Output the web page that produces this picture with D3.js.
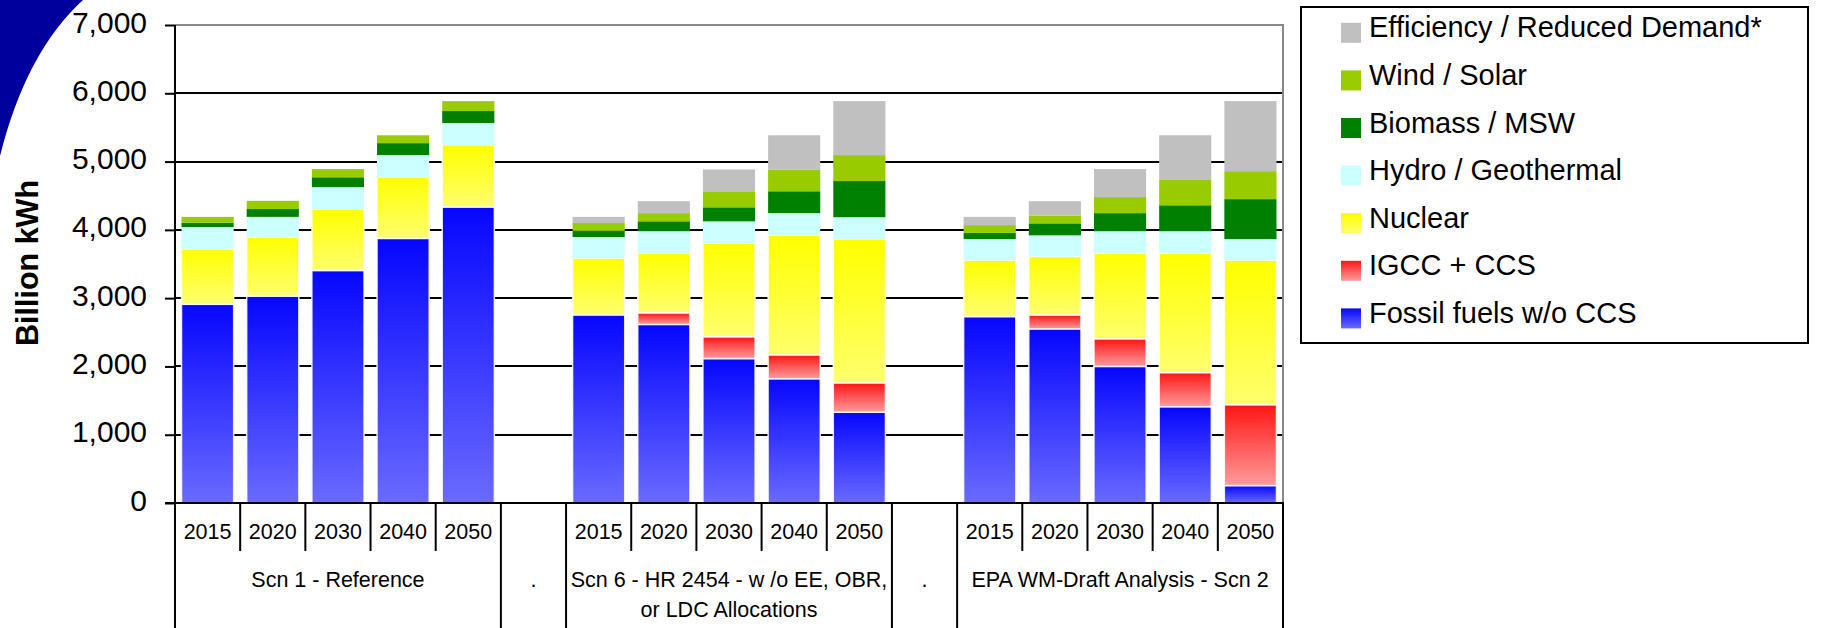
<!DOCTYPE html>
<html>
<head>
<meta charset="utf-8">
<script src="https://cdn.jsdelivr.net/npm/d3@7"></script>
<style>
  html, body { margin: 0; padding: 0; background: #fff; }
  svg { display: block; font-family: "Liberation Sans", Arial, sans-serif; }
</style>
</head>
<body>
<svg id="chart" width="1834" height="628"></svg>
<script>
// ---------- data ----------
const yearLabels = ["2015","2020","2030","2040","2050","","2015","2020","2030","2040","2050","","2015","2020","2030","2040","2050"];
const groupLabels = ["Scn 1 - Reference", ".", "Scn 6 - HR 2454 - w /o EE, OBR,|or LDC Allocations", ".", "EPA WM-Draft Analysis - Scn 2"];
const groupSizes = [5, 1, 5, 1, 5];
const yTicks = [0, 1000, 2000, 3000, 4000, 5000, 6000, 7000];

const seriesNames = ["Fossil fuels w/o CCS", "IGCC + CCS", "Nuclear", "Hydro / Geothermal", "Biomass / MSW", "Wind / Solar", "Efficiency / Reduced Demand*"];
const fossil     = [2910, 3030, 3405, 3875, 4335, 0, 2755, 2615, 2115, 1820, 1330, 0, 2730, 2550, 2000, 1410, 255];
const igcc       = [0, 0, 0, 0, 0, 0, 0, 170, 320, 350, 430, 0, 0, 205, 405, 500, 1185];
const nuclear    = [810, 865, 900, 900, 910, 0, 830, 875, 1370, 1755, 2105, 0, 825, 855, 1255, 1750, 2115];
const hydro      = [320, 295, 320, 320, 320, 0, 310, 320, 320, 320, 320, 0, 310, 310, 320, 320, 310];
const biomass    = [65, 115, 145, 175, 175, 0, 90, 145, 205, 320, 530, 0, 90, 175, 265, 380, 585];
const wind       = [85, 120, 120, 115, 145, 0, 115, 120, 235, 320, 380, 0, 115, 115, 235, 380, 410];
const efficiency = [0, 0, 0, 0, 0, 0, 90, 175, 320, 500, 790, 0, 120, 210, 410, 645, 1025];

const seriesValues = [fossil, igcc, nuclear, hydro, biomass, wind, efficiency];

// ---------- styles ----------
const fills = [
  {grad: ["#0606ff", "#6a6aff"]},
  {grad: ["#ff1414", "#ff9c9c"]},
  {grad: ["#ffff00", "#ffff6e"]},
  {solid: "#ccffff"},
  {solid: "#008000"},
  {solid: "#99cc00"},
  {solid: "#c0c0c0"}
];

const svg = d3.select("#chart");
const W = 1834, H = 628;
const plot = {left: 175, right: 1283, top: 25, bottom: 503};

// decorative slide corner
svg.append("path")
  .attr("d", "M0,0 L83,0 Q26,52 0,156 Z")
  .attr("fill", "#00009c");

// gradients
const defs = svg.append("defs");
fills.forEach((f, i) => {
  if (f.grad) {
    const g = defs.append("linearGradient").attr("id", "g" + i)
      .attr("x1", 0).attr("y1", 0).attr("x2", 0).attr("y2", 1);
    g.append("stop").attr("offset", "0%").attr("stop-color", f.grad[0]);
    g.append("stop").attr("offset", "100%").attr("stop-color", f.grad[1]);
  }
});
const fillOf = i => fills[i].grad ? `url(#g${i})` : fills[i].solid;

// scales
const n = yearLabels.length;
const x = d3.scaleBand().domain(d3.range(n)).range([plot.left, plot.right])
  .paddingInner(0.2).paddingOuter(0.1);
const step = x.step();
const catLeft = i => plot.left + i * step;
const y = d3.scaleLinear().domain([0, 7000]).range([plot.bottom, plot.top]);

// gridlines
svg.append("g").selectAll("line")
  .data(yTicks.filter(t => t > 0 && t < 7000))
  .join("line")
  .attr("x1", plot.left).attr("x2", plot.right)
  .attr("y1", d => Math.round(y(d))).attr("y2", d => Math.round(y(d)))
  .attr("stroke", "#000").attr("stroke-width", 2)
  .attr("shape-rendering", "crispEdges");

// plot frame top/right (grey)
svg.append("line").attr("x1", plot.left).attr("x2", plot.right + 1)
  .attr("y1", y(7000)).attr("y2", y(7000))
  .attr("stroke", "#888").attr("stroke-width", 2)
  .attr("shape-rendering", "crispEdges");
svg.append("line").attr("x1", plot.right).attr("x2", plot.right)
  .attr("y1", y(7000)).attr("y2", plot.bottom)
  .attr("stroke", "#888").attr("stroke-width", 2)
  .attr("shape-rendering", "crispEdges");

// stacked bars
const stackData = d3.range(n).map(i => {
  const o = {i};
  seriesValues.forEach((s, k) => o[k] = s[i] || 0);
  return o;
});
const stack = d3.stack().keys(d3.range(seriesValues.length));
const layers = stack(stackData);

const barsG = svg.append("g");
layers.forEach((layer, k) => {
  barsG.append("g").selectAll("rect")
    .data(layer.filter(d => d[1] - d[0] > 0))
    .join("rect")
    .attr("x", d => x(d.data.i))
    .attr("width", x.bandwidth())
    .attr("y", d => y(d[1]))
    .attr("height", d => y(d[0]) - y(d[1]))
    .attr("fill", fillOf(k))
    .attr("stroke", fills[k].grad ? "rgba(255,255,255,0.85)" : "none")
    .attr("stroke-width", fills[k].grad ? 1.5 : 0);
});

// y axis
const yAxis = d3.axisLeft(y).tickValues(yTicks).tickSize(10).tickPadding(18)
  .tickFormat(d3.format(","));
const yg = svg.append("g").attr("transform", `translate(${plot.left},0)`).call(yAxis);
yg.select(".domain").remove();
yg.selectAll(".tick line").attr("stroke", "#000").attr("stroke-width", 2);
yg.selectAll(".tick text")
  .attr("font-size", 30).attr("fill", "#000")
  .attr("dy", null).attr("y", 7)
  .style("font-family", "'Liberation Sans', Arial, sans-serif");

// y axis line (continues down as left group border)
svg.append("line").attr("x1", plot.left).attr("x2", plot.left)
  .attr("y1", plot.top).attr("y2", H)
  .attr("stroke", "#000").attr("stroke-width", 2);

// x axis line
svg.append("line").attr("x1", plot.left - 10).attr("x2", plot.right + 1)
  .attr("y1", plot.bottom).attr("y2", plot.bottom)
  .attr("stroke", "#000").attr("stroke-width", 2);

// category separators & labels
const groupStarts = [];
let acc = 0;
groupSizes.forEach(s => { groupStarts.push(acc); acc += s; });
const boundaries = new Set(groupStarts.concat([n]));

const xg = svg.append("g");
for (let i = 1; i <= n; i++) {
  const xx = catLeft(i);
  const isGroup = boundaries.has(i);
  xg.append("line")
    .attr("x1", xx).attr("x2", xx)
    .attr("y1", plot.bottom).attr("y2", isGroup ? H : 551)
    .attr("stroke", "#000").attr("stroke-width", 2);
}
xg.selectAll("text.year")
  .data(yearLabels)
  .join("text")
  .attr("class", "year")
  .attr("x", (d, i) => x(i) + x.bandwidth() / 2)
  .attr("y", 539)
  .attr("text-anchor", "middle")
  .attr("font-size", 21.5)
  .attr("fill", "#000")
  .text(d => d);

groupLabels.forEach((lab, g) => {
  const cx = catLeft(groupStarts[g]) + groupSizes[g] * step / 2;
  const lines = lab.split("|");
  const t = xg.append("text")
    .attr("x", cx).attr("y", 587)
    .attr("text-anchor", "middle")
    .attr("font-size", 21.5)
    .attr("fill", "#000");
  lines.forEach((ln, j) => {
    t.append("tspan").attr("x", cx).attr("y", 587 + j * 29.5).text(ln);
  });
});

// y axis title
svg.append("text")
  .attr("transform", "translate(38,263) rotate(-90)")
  .attr("text-anchor", "middle")
  .attr("font-size", 30.5)
  .attr("font-weight", "bold")
  .attr("fill", "#000")
  .text("Billion kWh");

// legend
const lg = svg.append("g");
lg.append("rect")
  .attr("x", 1301).attr("y", 7).attr("width", 507).attr("height", 336)
  .attr("fill", "#fff").attr("stroke", "#000").attr("stroke-width", 2);
const legendOrder = d3.range(seriesNames.length).reverse();
legendOrder.forEach((k, r) => {
  const base = 37.3 + r * 47.6;
  lg.append("rect")
    .attr("x", 1341).attr("y", base - 14.5)
    .attr("width", 20).attr("height", 20)
    .attr("fill", fillOf(k));
  lg.append("text")
    .attr("x", 1369).attr("y", base)
    .attr("font-size", 29)
    .attr("fill", "#000")
    .text(seriesNames[k]);
});
</script>
</body>
</html>
